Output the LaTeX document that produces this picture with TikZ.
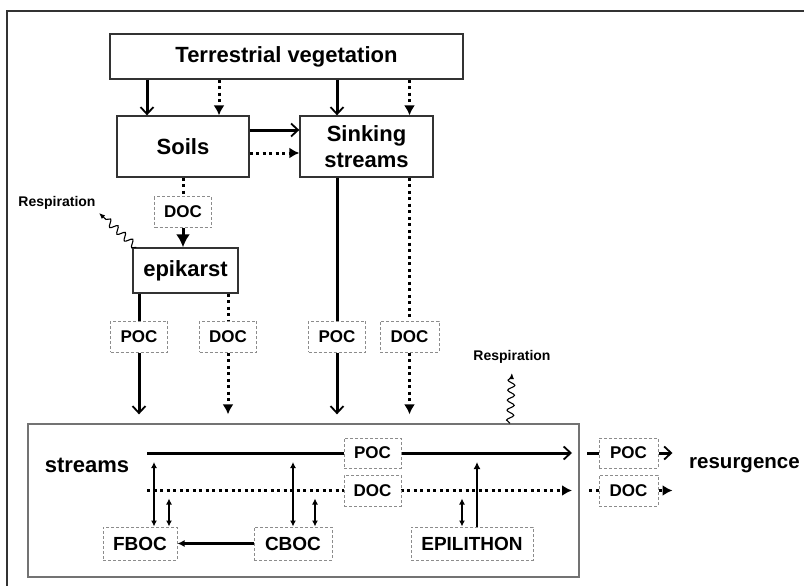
\documentclass[tikz,border=0pt]{standalone}
\usepackage{fontspec}
\setmainfont{Liberation Sans}
\usetikzlibrary{arrows.meta,decorations.pathmorphing}
\begin{document}
\begin{tikzpicture}[x=1pt,y=-1pt,
	box/.style={draw=black!80,line width=1.3pt,fill=white,align=center,inner sep=0pt,font=\fontsize{22}{26}\selectfont\bfseries},
	cbox/.style={draw=black!45,densely dashed,line width=1pt,fill=white,minimum width=57,minimum height=31,inner sep=0pt,font=\fontsize{17}{19}\selectfont\bfseries},
	pbox/.style={draw=black!45,densely dashed,line width=1pt,fill=white,minimum height=33,inner sep=0pt,font=\fontsize{19}{21}\selectfont\bfseries},
	lbl/.style={font=\fontsize{22}{25}\selectfont\bfseries},
	rlbl/.style={font=\fontsize{14}{16}\selectfont\bfseries},
	sline/.style={line width=3pt},
	dline/.style={line width=3pt,dash pattern=on 3pt off 3.5pt},
	sarr/.style={sline,-{Straight Barb[length=7pt,width=13pt,line width=1.8pt]}},
	darr/.style={dline,-{Latex[length=10pt,width=11pt]}},
	barr/.style={line width=1.8pt,>={Latex[length=6pt,width=6pt]},<->},
	uarr/.style={line width=2.2pt,-{Latex[length=7pt,width=7pt]}},
	wavy/.style={line width=1.1pt,-{Latex[length=6pt,width=5pt]},decorate,decoration={snake,amplitude=3.5pt,segment length=10pt,post length=6pt}}]
	\useasboundingbox(0,0)rectangle(804,586);
	\draw[line width=1.2pt,black!80](7,586)--(7,11)--(804,11);
	\node(TV)at(286.5,56.5)[box,minimum width=353,minimum height=45]{Terrestrial vegetation};
	\node(Soils)at(183,146.5)[box,minimum width=132,minimum height=61]{Soils};
	\node(Sink)at(366.5,146.5)[box,minimum width=133,minimum height=61]{Sinking\\streams};
	\node(DOCs)at(183,212)[cbox]{DOC};
	\node(Epi)at(185.5,270.5)[box,minimum width=105,minimum height=45]{epikarst};
	\node(Resp1)at(57,203)[rlbl]{Respiration};
	\node(POCe)at(139,336.5)[cbox]{POC};
	\node(DOCe)at(228,336.5)[cbox]{DOC};
	\node(POCk)at(337,336.5)[cbox]{POC};
	\node(DOCk)at(409.5,336.5)[cbox,minimum width=59]{DOC};
	\node(Strm)at(303.5,500.5)[draw=black!55,line width=1.3pt,minimum width=551,minimum height=153]{};
	\node(Resp2)at(512,357)[rlbl]{Respiration};
	\node(StrL)at(87,465)[lbl]{streams};
	\coordinate(ps)at(147,453);
	\coordinate(pe)at(572,453);
	\coordinate(ds)at(147,490.5);
	\coordinate(de)at(572,490.5);
	\node(FBOC)at(140,543.5)[pbox,minimum width=74]{FBOC};
	\node(CBOC)at(293,543.5)[pbox,minimum width=78]{CBOC};
	\node(EPIL)at(472,543.5)[pbox,minimum width=122]{EPILITHON};
	\draw[sarr](ps)--(372.5,453)node(iPOC)[cbox,minimum height=30]{POC}--(pe);
	\draw[darr](ds)--(372.5,490.5)node(iDOC)[cbox]{DOC}--(de);
	\node(oPOC)at(628.5,453)[cbox,minimum width=59,minimum height=30]{POC};
	\node(oDOC)at(628.5,490.5)[cbox,minimum width=59]{DOC};
	\node(Res)at(689,465)[anchor=west,inner sep=0pt,font=\fontsize{20.5}{24}\selectfont\bfseries]{resurgence};
	\draw[sarr]([xshift=-36pt]Soils.north|-TV.south)--([xshift=-36pt]Soils.north);
	\draw[darr]([xshift=36pt]Soils.north|-TV.south)--([xshift=36pt]Soils.north);
	\draw[sarr](TV.south-|POCk)--(Sink.north-|POCk);
	\draw[darr](TV.south-|DOCk)--(Sink.north-|DOCk);
	\draw[sarr]([yshift=16.5pt]Soils.east)--([yshift=16.5pt]Sink.west);
	\draw[darr]([yshift=-6.5pt]Soils.east)--([yshift=-6.5pt]Sink.west);
	\draw[dline](Soils.south)--(DOCs.north);
	\draw[line width=3pt,-{Latex[length=13pt,width=14pt]}](DOCs.south)--(DOCs.south|-Epi.north);
	\draw[wavy]([xshift=4pt]Epi.north west)--(Resp1.south east);
	\draw[sline](Epi.south-|POCe)--(POCe.north);
	\draw[dline](Epi.south-|DOCe)--(DOCe.north);
	\draw[sline](Sink.south-|POCk)--(POCk.north);
	\draw[dline](Sink.south-|DOCk)--(DOCk.north);
	\draw[sarr,shorten >=9pt](POCe.south)--(POCe.south|-Strm.north);
	\draw[darr,shorten >=9pt](DOCe.south)--(DOCe.south|-Strm.north);
	\draw[sarr,shorten >=9pt](POCk.south)--(POCk.south|-Strm.north);
	\draw[darr,shorten >=9pt](DOCk.south)--(DOCk.south|-Strm.north);
	\draw[wavy,shorten >=6pt]([xshift=206.5pt]Strm.north)--(Resp2.south);
	\draw[barr,shorten >=9pt]([xshift=14pt]FBOC.north)--([xshift=14pt]FBOC.north|-ps);
	\draw[barr,shorten >=8pt]([xshift=29pt]FBOC.north)--([xshift=29pt]FBOC.north|-ds);
	\draw[barr,shorten >=9pt](CBOC.north)--(CBOC.north|-ps);
	\draw[barr,shorten >=8pt]([xshift=22pt]CBOC.north)--([xshift=22pt]CBOC.north|-ds);
	\draw[barr,shorten >=8pt]([xshift=-10pt]EPIL.north)--([xshift=-10pt]EPIL.north|-ds);
	\draw[uarr,shorten >=9pt]([xshift=5pt]EPIL.north)--([xshift=5pt]EPIL.north|-ps);
	\draw[uarr](CBOC.west)--(FBOC.east);
	\draw[sline](oPOC.west)--++(-12,0);
	\draw[sarr](oPOC.east)--++(14,0);
	\draw[dline](oDOC.west)--++(-12,0);
	\draw[darr](oDOC.east)--++(14,0);
\end{tikzpicture}
\end{document}
